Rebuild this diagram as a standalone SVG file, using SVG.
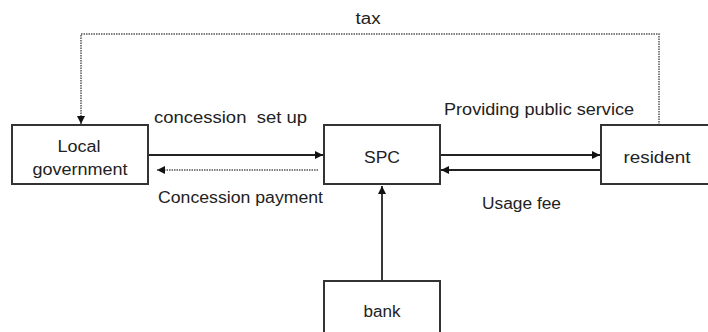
<svg xmlns="http://www.w3.org/2000/svg" width="708" height="332" viewBox="0 0 708 332">
<defs>
<style>
text{font-family:"Liberation Sans",Arial,sans-serif;font-size:16px;fill:#222}
.box{fill:#fff;stroke:#333;stroke-width:2}
.ln{fill:none;stroke:#222;stroke-width:1.8}
.dot{fill:none;stroke:#555;stroke-width:1.5;stroke-dasharray:1.5 1}
.c{text-anchor:middle}
</style>
<marker id="ah" viewBox="0 0 10 10" refX="10" refY="5" markerWidth="8" markerHeight="8" markerUnits="userSpaceOnUse" orient="auto">
<path d="M0,0L10,5L0,10z" fill="#111"/>
</marker>
</defs>
<rect width="708" height="332" fill="#fff"/>
<g id="connectors">
<polyline class="dot" points="659,125 659,34 81,34 81,124" marker-end="url(#ah)"/>
<line class="ln" x1="148" y1="155" x2="323" y2="155" marker-end="url(#ah)"/>
<line class="dot" x1="318" y1="170" x2="157" y2="170" marker-end="url(#ah)"/>
<line class="ln" x1="440" y1="155" x2="600" y2="155" marker-end="url(#ah)"/>
<line class="ln" x1="601" y1="170" x2="441" y2="170" marker-end="url(#ah)"/>
<line class="ln" x1="382" y1="281" x2="382" y2="186" marker-end="url(#ah)"/>
<text class="c" x="368" y="24" textLength="25" lengthAdjust="spacingAndGlyphs">tax</text>
<text x="154" y="123" textLength="153" lengthAdjust="spacingAndGlyphs" xml:space="preserve">concession  set up</text>
<text x="158" y="203" textLength="165" lengthAdjust="spacingAndGlyphs">Concession payment</text>
<text x="444" y="115" textLength="190" lengthAdjust="spacingAndGlyphs">Providing public service</text>
<text x="482" y="209" textLength="79" lengthAdjust="spacingAndGlyphs">Usage fee</text>
</g>
<g id="local-government">
<rect class="box" x="12" y="125" width="136" height="59"/>
<text class="c" x="79" y="152" textLength="43" lengthAdjust="spacingAndGlyphs">Local</text>
<text class="c" x="80" y="175" textLength="95" lengthAdjust="spacingAndGlyphs">government</text>
</g>
<g id="spc">
<rect class="box" x="324" y="125" width="116" height="59"/>
<text class="c" x="382" y="163" textLength="36" lengthAdjust="spacingAndGlyphs">SPC</text>
</g>
<g id="resident">
<rect class="box" x="601" y="125" width="120" height="59"/>
<text class="c" x="657" y="163" textLength="67" lengthAdjust="spacingAndGlyphs">resident</text>
</g>
<g id="bank">
<rect class="box" x="324" y="281" width="116" height="60"/>
<text class="c" x="382" y="317" textLength="37" lengthAdjust="spacingAndGlyphs">bank</text>
</g>
</svg>
